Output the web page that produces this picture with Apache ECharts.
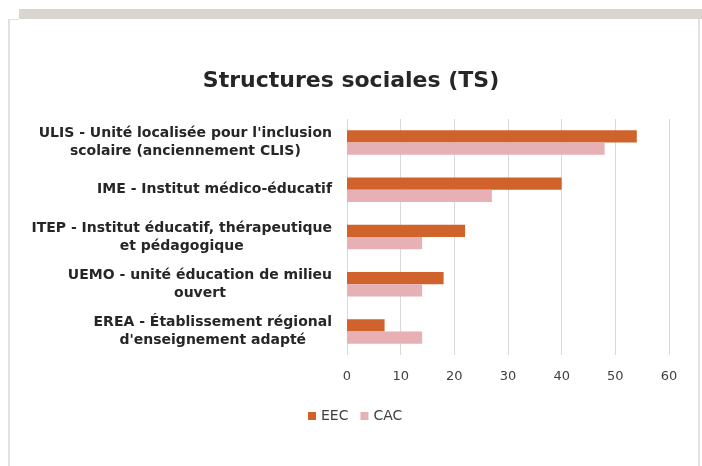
<!DOCTYPE html>
<html>
<head>
<meta charset="utf-8">
<script src="https://cdn.jsdelivr.net/npm/echarts@6/dist/echarts.min.js"></script>
<style>
  html, body { margin: 0; padding: 0; background: #fff; }
  #chart { width: 702px; height: 466px; }
</style>
</head>
<body>
<div id="chart"></div>
<script>
// données
var categories = [
  "ULIS - Unité localisée pour l'inclusion\nscolaire (anciennement CLIS)",
  "IME - Institut médico-éducatif",
  "ITEP - Institut éducatif, thérapeutique\net pédagogique",
  "UEMO - unité éducation de milieu\nouvert",
  "EREA - Établissement régional\nd'enseignement adapté"
];
var eecValues = [54, 40, 22, 18, 7];
var cacValues = [48, 27, 14, 14, 14];
var seriesNames = ["EEC", "CAC"];

var myChart = echarts.init(document.getElementById("chart"));

var option = {
  animation: false,
  textStyle: { fontFamily: "DejaVu Sans" },
  title: {
    text: "Structures sociales (TS)",
    left: "center",
    top: 65,
    textStyle: {
      fontFamily: "DejaVu Sans",
      fontSize: 22,
      fontWeight: "bold",
      color: "#262626"
    }
  },
  legend: {
    data: seriesNames,
    left: 303,
    top: 404,
    itemWidth: 8,
    itemHeight: 8,
    itemGap: 12,
    icon: "rect",
    textStyle: { fontSize: 14, color: "#404040" }
  },
  grid: {
    left: 347,
    right: 33,
    top: 119,
    bottom: 111
  },
  xAxis: {
    type: "value",
    min: 0,
    max: 60,
    interval: 10,
    axisLine: { show: false },
    axisTick: { show: false },
    axisLabel: { color: "#404040", fontSize: 13, margin: 15 },
    splitLine: { lineStyle: { color: "#d9d9d9", width: 1 } }
  },
  yAxis: {
    type: "category",
    inverse: true,
    data: categories,
    axisLine: { show: false },
    axisTick: { show: false },
    axisLabel: {
      margin: 15,
      align: "right",
      // lignes centrées entre elles, bloc aligné à droite
      formatter: function (val) {
        return val.split("\n").map(function (l) { return "{c|" + l + "}"; }).join("\n");
      },
      rich: {
        c: {
          align: "center",
          color: "#262626",
          fontFamily: "DejaVu Sans",
          fontSize: 14,
          fontWeight: "bold",
          lineHeight: 18
        }
      }
    }
  },
  series: [
    {
      name: seriesNames[0],
      type: "bar",
      data: eecValues,
      barGap: "0%",
      barCategoryGap: "48%",
      itemStyle: { color: "#d0622b" }
    },
    {
      name: seriesNames[1],
      type: "bar",
      data: cacValues,
      itemStyle: { color: "#e6b0b4" }
    }
  ],
  graphic: [
    // bandeau gris et cadre
    { type: "rect", shape: { x: 19, y: 9, width: 683, height: 10 }, style: { fill: "#d9d6d0" } },
    { type: "line", shape: { x1: 9, y1: 19, x2: 9, y2: 466 }, style: { stroke: "#e3e1dc", lineWidth: 2 } },
    { type: "line", shape: { x1: 8, y1: 19.5, x2: 19, y2: 19.5 }, style: { stroke: "#e3e1dc", lineWidth: 1 } },
    { type: "line", shape: { x1: 699, y1: 19, x2: 699, y2: 466 }, style: { stroke: "#e3e1dc", lineWidth: 2 } }
  ]
};

myChart.setOption(option);
</script>
</body>
</html>
